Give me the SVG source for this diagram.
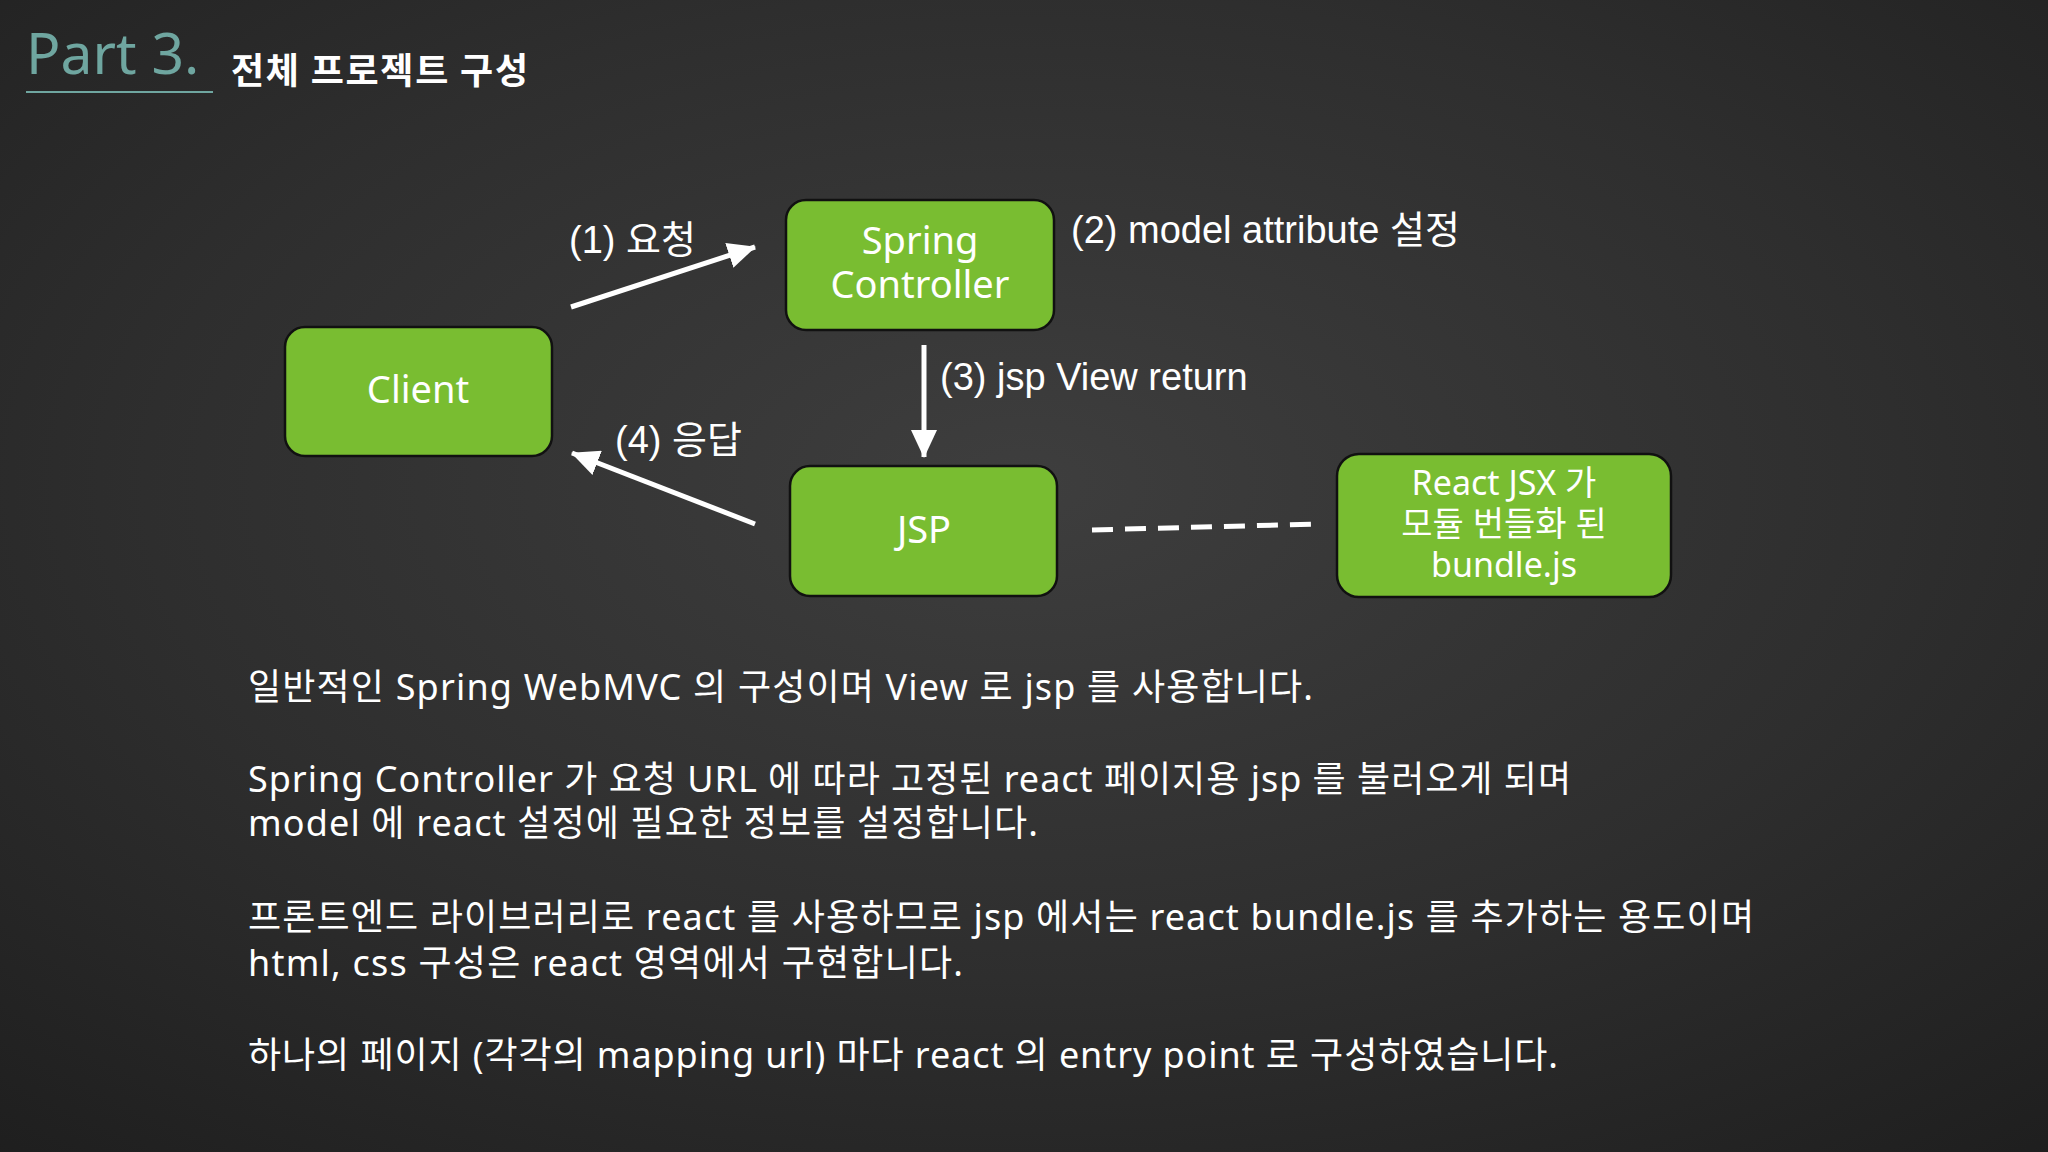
<svg xmlns="http://www.w3.org/2000/svg" width="2048" height="1152" viewBox="0 0 2048 1152">
  <defs>
    <radialGradient id="bg" cx="0.5" cy="0.42" r="0.78">
      <stop offset="0" stop-color="#3e3e3e"/>
      <stop offset="0.55" stop-color="#2e2e2e"/>
      <stop offset="1" stop-color="#1e1e1e"/>
    </radialGradient>
    <marker id="arrow" markerUnits="userSpaceOnUse" markerWidth="30" markerHeight="26" refX="27" refY="13" orient="auto">
      <path d="M0,0 L28,13 L0,26 z" fill="#ffffff"/>
    </marker>
    <style>
      .box { fill: #79bd31; stroke: #111111; stroke-width: 2.5; }
      .btxt { fill: #ffffff; font-family: "Noto Sans", "Noto Sans CJK KR", sans-serif; font-size: 38px; text-anchor: middle; }
      .rtxt { fill: #ffffff; font-family: "Noto Sans", "Noto Sans CJK KR", sans-serif; font-size: 34px; text-anchor: middle; }
      .lbl { fill: #ffffff; font-family: "Liberation Sans", "Noto Sans CJK KR", sans-serif; font-size: 38px; }
      .body { fill: #ffffff; font-family: "Noto Sans", "Noto Sans CJK KR", sans-serif; font-size: 36px; }
      .conn { stroke: #ffffff; stroke-width: 5; fill: none; }
    </style>
  </defs>

  <rect x="0" y="0" width="2048" height="1152" fill="url(#bg)"/>

  <g id="title">
    <text x="26" y="74" font-family="Noto Sans, sans-serif" font-size="57" fill="#6fa6a0">Part 3.</text>
    <line x1="26" y1="92" x2="213" y2="92" stroke="#6fa6a0" stroke-width="2"/>
    <text x="231" y="84" font-family="Noto Sans CJK KR, sans-serif" font-weight="bold" font-size="36" fill="#ffffff" textLength="297" lengthAdjust="spacing">전체 프로젝트 구성</text>
  </g>

  <g id="connectors">
    <line class="conn" x1="571" y1="307" x2="755" y2="247" marker-end="url(#arrow)"/>
    <line class="conn" x1="924" y1="345" x2="924" y2="457" marker-end="url(#arrow)"/>
    <line class="conn" x1="755" y1="524" x2="572" y2="453" marker-end="url(#arrow)"/>
    <line class="conn" x1="1092" y1="530" x2="1316" y2="524" stroke-dasharray="21 12"/>
    <text class="lbl" x="569" y="253">(1) 요청</text>
    <text class="lbl" x="1071" y="243">(2) model attribute 설정</text>
    <text class="lbl" x="940" y="390">(3) jsp View return</text>
    <text class="lbl" x="615" y="453">(4) 응답</text>
  </g>

  <g id="client">
    <rect class="box" x="285" y="327" width="267" height="129" rx="20"/>
    <text class="btxt" x="418" y="403">Client</text>
  </g>

  <g id="spring-controller">
    <rect class="box" x="786" y="200" width="268" height="130" rx="20"/>
    <text class="btxt" x="920" y="254">Spring</text>
    <text class="btxt" x="920" y="298">Controller</text>
  </g>

  <g id="jsp">
    <rect class="box" x="790" y="466" width="267" height="130" rx="20"/>
    <text class="btxt" x="924" y="543">JSP</text>
  </g>

  <g id="react-bundle">
    <rect class="box" x="1337" y="454" width="334" height="143" rx="22"/>
    <text class="rtxt" x="1504" y="495">React JSX 가</text>
    <text class="rtxt" x="1504" y="536">모듈 번들화 된</text>
    <text class="rtxt" x="1504" y="577">bundle.js</text>
  </g>

  <g id="description">
    <text class="body" x="248" y="700" textLength="1065" lengthAdjust="spacing">일반적인 Spring WebMVC 의 구성이며 View 로 jsp 를 사용합니다.</text>
    <text class="body" x="248" y="792" textLength="1323" lengthAdjust="spacing">Spring Controller 가 요청 URL 에 따라 고정된 react 페이지용 jsp 를 불러오게 되며</text>
    <text class="body" x="248" y="836" textLength="790" lengthAdjust="spacing">model 에 react 설정에 필요한 정보를 설정합니다.</text>
    <text class="body" x="248" y="930" textLength="1506" lengthAdjust="spacing">프론트엔드 라이브러리로 react 를 사용하므로 jsp 에서는 react bundle.js 를 추가하는 용도이며</text>
    <text class="body" x="248" y="976" textLength="715" lengthAdjust="spacing">html, css 구성은 react 영역에서 구현합니다.</text>
    <text class="body" x="248" y="1068" textLength="1310" lengthAdjust="spacing">하나의 페이지 (각각의 mapping url) 마다 react 의 entry point 로 구성하였습니다.</text>
  </g>
</svg>
